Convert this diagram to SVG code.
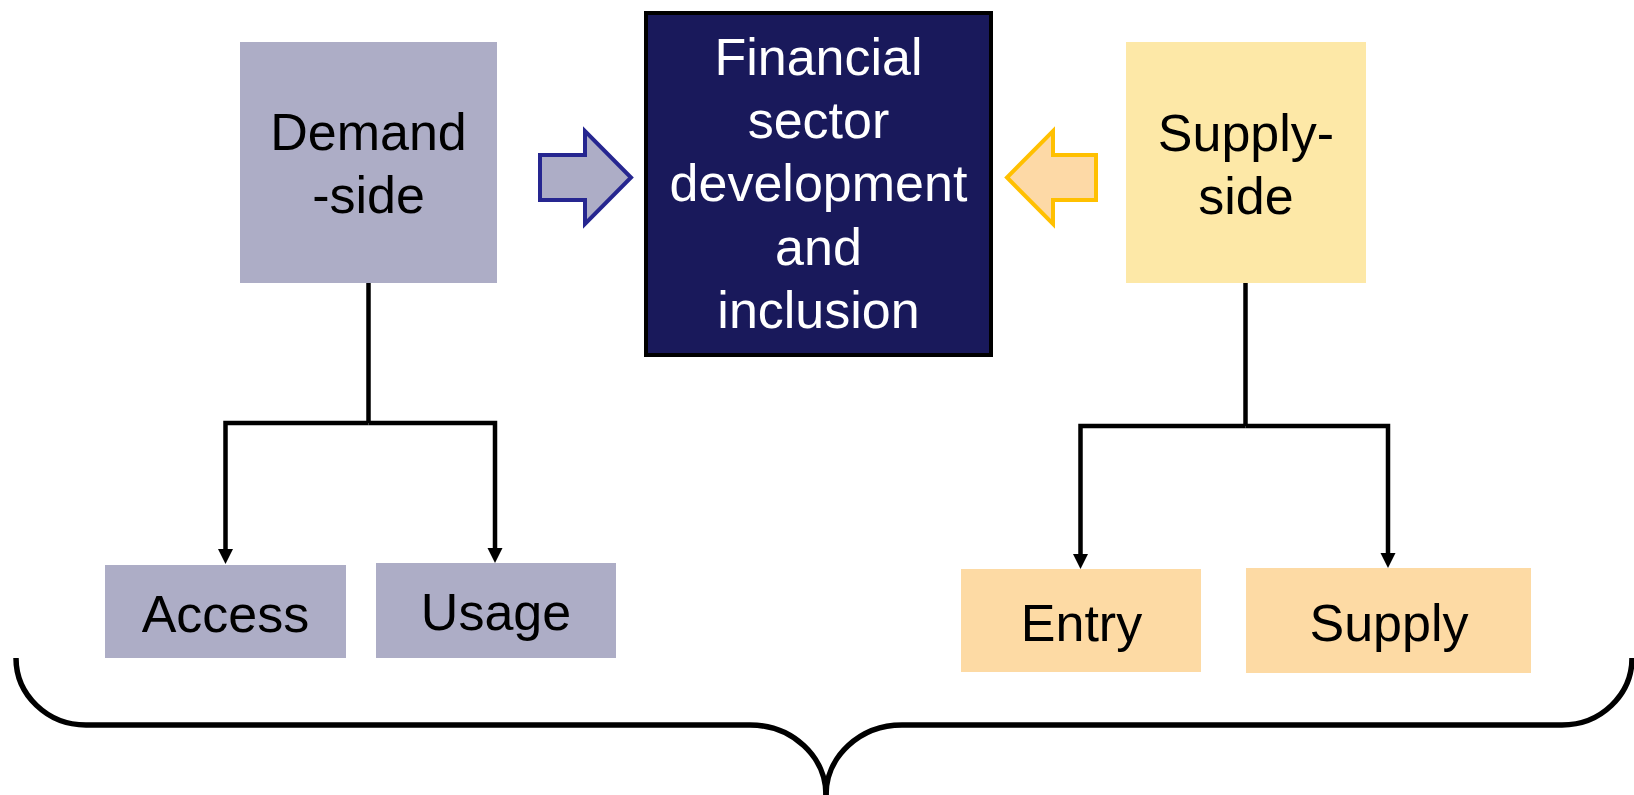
<svg xmlns="http://www.w3.org/2000/svg" width="1634" height="795" viewBox="0 0 1634 795">
  <style>
    .t { font-family: "Liberation Sans", Arial, sans-serif; font-size: 52px; text-anchor: middle; fill: #000; }
    .w { fill: #fff; }
    .demand { fill: #adadc6; }
    .supply { fill: #fde8a7; }
    .sub { fill: #fddaa4; }
    .conn { fill: none; stroke: #000; stroke-width: 4.5; stroke-linejoin: miter; }
    .head { fill: #000; }
    .brace { fill: none; stroke: #000; stroke-width: 5.5; }
  </style>

  <g id="demand-side">
    <rect class="demand" x="240" y="42" width="257" height="241"/>
    <text class="t" x="368.5" y="150">Demand</text>
    <text class="t" x="368.5" y="213">-side</text>
  </g>

  <g id="financial">
    <rect x="646" y="13" width="345" height="342" fill="#19195b" stroke="#000" stroke-width="4"/>
    <text class="t w" x="818.5" y="74.5">Financial</text>
    <text class="t w" x="818.5" y="137.9">sector</text>
    <text class="t w" x="818.5" y="201.3">development</text>
    <text class="t w" x="818.5" y="264.7">and</text>
    <text class="t w" x="818.5" y="328.1">inclusion</text>
  </g>

  <g id="supply-side">
    <rect class="supply" x="1126" y="42" width="240" height="241"/>
    <text class="t" x="1246" y="150.5">Supply-</text>
    <text class="t" x="1246" y="214">side</text>
  </g>

  <g id="access">
    <rect class="demand" x="105" y="565" width="241" height="93"/>
    <text class="t" x="225.5" y="631.5">Access</text>
  </g>

  <g id="usage">
    <rect class="demand" x="376" y="563" width="240" height="95"/>
    <text class="t" x="496" y="630">Usage</text>
  </g>

  <g id="entry">
    <rect class="sub" x="961" y="569" width="240" height="103"/>
    <text class="t" x="1081.5" y="640.5">Entry</text>
  </g>

  <g id="supply">
    <rect class="sub" x="1246" y="568" width="285" height="105"/>
    <text class="t" x="1389" y="640.5">Supply</text>
  </g>

  <g id="connectors">
    <path d="M540,155 H585 V131 L631,177.5 L585,224 V200 H540 Z" fill="#adadc6" stroke="#262690" stroke-width="4"/>
    <path d="M1096,155 H1053 V131 L1007,177.5 L1053,224 V200 H1096 Z" fill="#fdd9a6" stroke="#ffc000" stroke-width="4"/>

    <path class="conn" d="M368.5,283 V423"/>
    <path class="conn" d="M368.5,423 H225.5 V549"/>
    <path class="conn" d="M368.5,423 H495 V548"/>
    <polygon class="head" points="218,549 233,549 225.5,564"/>
    <polygon class="head" points="487.5,548 502.5,548 495,563"/>

    <path class="conn" d="M1245.5,283 V426"/>
    <path class="conn" d="M1245.5,426 H1080.5 V554"/>
    <path class="conn" d="M1245.5,426 H1388 V553"/>
    <polygon class="head" points="1073,554 1088,554 1080.5,569"/>
    <polygon class="head" points="1380.5,553 1395.5,553 1388,568"/>

    <path class="brace" d="M16,658 A70,67 0 0 0 86,725 H750 A76,70 0 0 1 826,795"/>
    <path class="brace" d="M826,795 A76,70 0 0 1 902,725 H1562 A70,67 0 0 0 1632,658"/>
  </g>
</svg>
